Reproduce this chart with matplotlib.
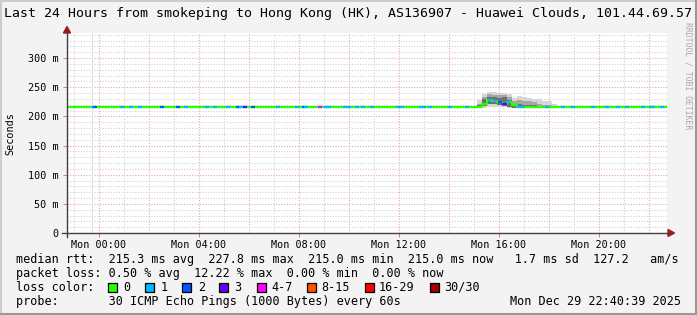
import matplotlib
matplotlib.use("Agg")
import matplotlib.pyplot as plt
from matplotlib.patches import Polygon, Rectangle
from matplotlib.lines import Line2D
import numpy as np

# ---------------- data ----------------
title = "Last 24 Hours from smokeping to Hong Kong (HK), AS136907 - Huawei Clouds, 101.44.69.57"
t_start = -1.28          # hours relative to Mon 00:00
t_end = 22.72
bin_hours = 0.2          # 12-minute bins

# median RTT per 12-minute bin (ms)
median_ms = [
    216, 216, 216, 216, 216, 216, 216, 216, 216, 216, 216, 216,
    216, 216, 216, 216, 216, 216, 216, 216, 216, 216, 216, 216,
    216, 216, 216, 216, 216, 216, 216, 216, 216, 216, 216, 216,
    216, 216, 216, 216, 216, 216, 216, 216, 216, 216, 216, 216,
    216, 216, 216, 216, 216, 216, 216, 216, 216, 216, 216, 216,
    216, 216, 216, 216, 216, 216, 216, 216, 216, 216, 216, 216,
    216, 216, 216, 216, 216, 216, 216, 216, 216, 216, 216, 222,
    227.8, 226, 225, 222, 224, 219, 216, 216, 216, 216, 216, 216,
    216, 216, 216, 216, 216, 216, 216, 216, 216, 216, 216, 216,
    216, 216, 216, 216, 216, 216, 216, 216, 216, 216, 216, 216,
]

# packet-loss events: time (hours) and lost pings out of 30
loss_hours = [-0.24, -0.16, 0.92, 1.28, 1.64, 2.52, 3.16, 3.48, 4.32, 4.64,
              5.16, 5.56, 5.68, 5.84, 6.16, 7.16, 7.92, 8.20, 8.28, 8.84,
              9.08, 9.20, 9.84, 10.00, 10.32, 10.56, 10.92, 11.96, 12.12, 12.88,
              13.00, 13.24, 14.04, 14.72, 15.64, 15.84, 16.04, 16.16, 16.24, 16.36,
              16.80, 16.92, 17.92, 18.56, 18.96, 19.76, 20.32, 20.76, 21.12, 21.76,
              22.08, 22.16, 22.52]
loss_count = [1, 2, 1, 1, 1, 2, 2, 1, 1, 1,
              1, 2, 1, 3, 2, 1, 1, 2, 1, 5,
              1, 1, 1, 1, 1, 1, 1, 1, 1, 1,
              1, 1, 1, 1, 1, 1, 2, 2, 3, 1,
              1, 1, 1, 1, 1, 1, 1, 1, 1, 1,
              1, 1, 1]

# smoke (ping spread) for the bins around 16:00
smoke_first_bin = 82
smoke_max = [228, 238, 242, 241, 240, 240, 238, 231, 235, 233, 231, 230, 229, 227, 226, 222]
smoke_p90 = [222, 234, 238, 237, 236, 237, 233, 226, 228, 227, 226, 224, 222, 220, 219, 217]
smoke_q75 = [219, 229, 234, 233, 232, 234, 228, 221, 222, 220, 220, 219, 217, 217, 217, 216]
smoke_q25 = [215, 218, 222, 221, 219, 218, 216, 215, 215, 215, 215, 215, 215, 215, 215, 215]
smoke_min = [214, 215, 216, 216, 216, 216, 215, 214.5, 214.5, 214.5, 214.5, 214.5, 214.5, 214.5, 214.5, 214.5]

loss_labels = ["0", "1", "2", "3", "4-7", "8-15", "16-29", "30/30"]
loss_colors = ["#26ff00", "#00b8ff", "#0059ff", "#5e00ff", "#ff00ff", "#ff5500", "#ff0000", "#a10000"]

y_ticks = [0, 50, 100, 150, 200, 250, 300]
y_tick_labels = ["0", "50 m", "100 m", "150 m", "200 m", "250 m", "300 m"]
x_label_hours = [0, 4, 8, 12, 16, 20]
x_tick_labels = ["Mon 00:00", "Mon 04:00", "Mon 08:00", "Mon 12:00", "Mon 16:00", "Mon 20:00"]

stats_rtt = "median rtt:  215.3 ms avg  227.8 ms max  215.0 ms min  215.0 ms now   1.7 ms sd  127.2   am/s"
stats_loss = "packet loss: 0.50 % avg  12.22 % max  0.00 % min  0.00 % now"
probe_text = "probe:       30 ICMP Echo Pings (1000 Bytes) every 60s"
date_text = "Mon Dec 29 22:40:39 2025"

# ---------------- figure ----------------
W, H = 697, 315
MONO = "DejaVu Sans Mono"
plt.rcParams["font.family"] = MONO

fig = plt.figure(figsize=(W / 100, H / 100), dpi=100, facecolor="#f3f3f3")

def P(x, y):
    return (x / W, 1 - y / H)

ymax = 342.9
ax = fig.add_axes([67 / W, (H - 233) / H, 600 / W, 200 / H])
ax.set_facecolor("white")
ax.set_xlim(t_start, t_end)
ax.set_ylim(0, ymax)
for s in ax.spines.values():
    s.set_visible(False)

# grid
minor_c = "#cfcfcf"
major_c = "#e6a0a0"
for v in np.arange(10, ymax, 10):
    if v % 50:
        ax.axhline(v, color=minor_c, lw=0.75, ls=(0, (1, 1.6)), zorder=1)
for v in y_ticks[1:]:
    ax.axhline(v, color=major_c, lw=0.75, ls=(0, (1, 1.6)), zorder=1)
for h in range(-1, 23):
    c = major_c if h % 2 == 0 else minor_c
    ax.axvline(h, color=c, lw=0.75, ls=(0, (1, 1.6)), zorder=1)
ax.axvline(-0.27, color="#dedede", lw=0.8, zorder=1)

# ticks
ax.set_yticks(y_ticks)
ax.set_yticklabels(y_tick_labels, fontsize=7.3, family=MONO)
ax.set_xticks(x_label_hours)
ax.set_xticklabels(x_tick_labels, fontsize=7.3, family=MONO)
ax.tick_params(axis="y", length=3, width=0.7, color="#d08080", pad=3.2)
ax.tick_params(axis="x", length=3, width=0.7, color="#d08080", pad=2.0)

# smoke
n = len(smoke_max)
edges = t_start + bin_hours * (smoke_first_bin + np.arange(n + 1))
def ext(a):
    return np.append(a, a[-1])
ax.fill_between(edges, ext(smoke_min), ext(smoke_max), step="post", color="#d6d6d6", lw=0, zorder=2)
ax.fill_between(edges, ext(smoke_q25), ext(smoke_p90), step="post", color="#a6a6a6", lw=0, zorder=3)
ax.fill_between(edges, ext(smoke_q25), ext(smoke_q75), step="post", color="#6e6e6e", lw=0, zorder=3)

# median line (green = no loss)
nb = len(median_ms)
bedges = t_start + bin_hours * np.arange(nb + 1)
ax.step(bedges, ext(median_ms), where="post", color=loss_colors[0], lw=1.6, zorder=4, solid_capstyle="butt")

def loss_color(k):
    if k == 0:
        return loss_colors[0]
    if k <= 3:
        return loss_colors[k]
    if k <= 7:
        return loss_colors[4]
    if k <= 15:
        return loss_colors[5]
    if k <= 29:
        return loss_colors[6]
    return loss_colors[7]

for th, k in zip(loss_hours, loss_count):
    i = int((th - t_start) // bin_hours)
    i = min(max(i, 0), nb - 1)
    ax.hlines(median_ms[i], th - 0.07, th + 0.07, color=loss_color(k), lw=1.6, zorder=5)

# axes lines + arrows
axis_c = "#404040"
fig.add_artist(Line2D([62 / W, 668 / W], [1 - 233 / H] * 2, color=axis_c, lw=1.0, transform=fig.transFigure))
fig.add_artist(Line2D([67 / W] * 2, [1 - 237 / H, 1 - 33 / H], color=axis_c, lw=1.0, transform=fig.transFigure))
arrow_c = "#9c1c1c"
fig.add_artist(Polygon([P(63.5, 33), P(70.5, 33), P(67, 26.5)], closed=True, color=arrow_c, transform=fig.transFigure))
fig.add_artist(Polygon([P(668, 229.5), P(668, 236.5), P(674.5, 233)], closed=True, color=arrow_c, transform=fig.transFigure))

# texts
fig.text(*P(348.5, 14), title, ha="center", va="center", fontsize=9.55, family=MONO)
fig.text(*P(10, 134), "Seconds", rotation=90, ha="center", va="center", fontsize=7.3, family=MONO)
fig.text(*P(688, 76), "RRDTOOL / TOBI OETIKER", rotation=270, ha="center", va="center",
         fontsize=5.9, family=MONO, color="#a8a8a8")

fs = 8.43
fig.text(*P(16, 260), stats_rtt, ha="left", va="center", fontsize=fs, family=MONO)
fig.text(*P(16, 273.6), stats_loss, ha="left", va="center", fontsize=fs, family=MONO)
fig.text(*P(16, 287.4), "loss color:", ha="left", va="center", fontsize=fs, family=MONO)
box_x = [108, 145, 182, 219, 257, 307, 365, 430]
lab_x = [123.5, 160.4, 197.8, 234, 271, 321, 379, 444]
for bx, lx, lab, col in zip(box_x, lab_x, loss_labels, loss_colors):
    x0, y0 = P(bx, 291.5)
    fig.add_artist(Rectangle((x0, y0), 8.5 / W, 8.5 / H, facecolor=col, edgecolor="black",
                             lw=0.9, transform=fig.transFigure))
    fig.text(*P(lx, 287.4), lab, ha="left", va="center", fontsize=fs, family=MONO)
fig.text(*P(16, 301.3), probe_text, ha="left", va="center", fontsize=fs, family=MONO)
fig.text(*P(681, 301.3), date_text, ha="right", va="center", fontsize=fs, family=MONO)

# frame
fig.add_artist(Line2D([0, 1], [1 - 0.5 / H] * 2, color="#cbcbcb", lw=1.4, transform=fig.transFigure))
fig.add_artist(Line2D([0.5 / W] * 2, [0, 1], color="#cbcbcb", lw=1.4, transform=fig.transFigure))
fig.add_artist(Line2D([0, 1], [1.0 / H] * 2, color="#999999", lw=1.5, transform=fig.transFigure))
fig.add_artist(Line2D([1 - 1.0 / W] * 2, [0, 1], color="#999999", lw=1.5, transform=fig.transFigure))

fig.savefig("out.png", dpi=100, facecolor=fig.get_facecolor())
